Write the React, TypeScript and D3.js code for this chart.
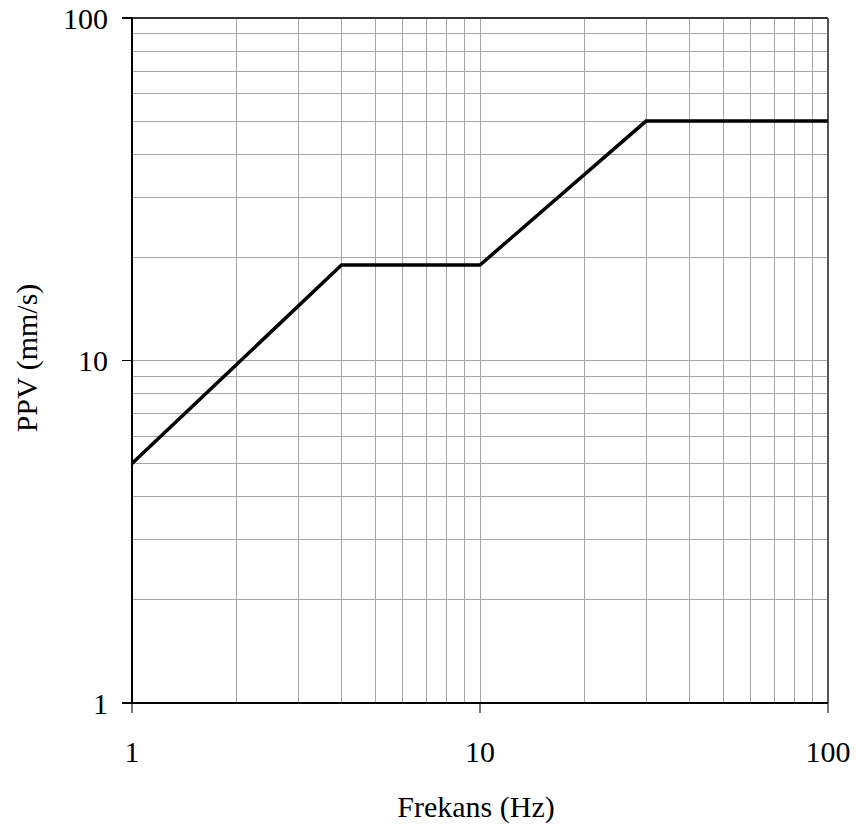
import React from "react";
import * as d3 from "d3";

// Frequency (Hz) breakpoints of the PPV limit curve
const freqHz = [1, 4, 10, 30, 100];
// Peak particle velocity limit (mm/s) at each breakpoint
const ppvMmS = [5, 19, 19, 50, 50];

const xTickLabels = ["1", "10", "100"];
const yTickLabels = ["1", "10", "100"];
const xTitle = "Frekans (Hz)";
const yTitle = "PPV (mm/s)";

const W = 856;
const H = 829;
const M = { left: 132, right: 828, top: 18, bottom: 703 };
const FONT = "'Liberation Serif', 'Times New Roman', serif";

export default function App() {
  const x = d3.scaleLog().domain([1, 100]).range([M.left, M.right]);
  const y = d3.scaleLog().domain([1, 100]).range([M.bottom, M.top]);

  // gridlines at every 1..9 × decade
  const grid: number[] = [];
  for (const dec of [1, 10]) for (let k = 1; k <= 9; k++) grid.push(k * dec);
  grid.push(100);

  const line = d3
    .line<number>()
    .x((_, i) => x(freqHz[i]))
    .y((d) => y(d));

  const majors = xTickLabels.map(Number);

  return (
    <svg width={W} height={H} style={{ display: "block", position: "absolute", left: 0, top: 0 }}>
      <rect x={0} y={0} width={W} height={H} fill="#fff" />
      <g stroke="#a6a6a6" strokeWidth={1} shapeRendering="crispEdges">
        {grid.map((v) => (
          <line key={"gx" + v} x1={x(v)} x2={x(v)} y1={M.top} y2={M.bottom} />
        ))}
        {grid.map((v) => (
          <line key={"gy" + v} x1={M.left} x2={M.right} y1={y(v)} y2={y(v)} />
        ))}
      </g>
      {/* plot frame */}
      <g shapeRendering="crispEdges" strokeWidth={1.5}>
        <line x1={M.left} x2={M.right} y1={M.top} y2={M.top} stroke="#333" />
        <line x1={M.right} x2={M.right} y1={M.top} y2={M.bottom} stroke="#555" />
      </g>
      {/* major ticks */}
      <g stroke="#777" strokeWidth={1.5} shapeRendering="crispEdges">
        {majors.map((v) => (
          <line key={"tx" + v} x1={x(v)} x2={x(v)} y1={M.bottom} y2={M.bottom + 10} />
        ))}
        {yTickLabels.map(Number).map((v) => (
          <line key={"ty" + v} x1={M.left - 10} x2={M.left} y1={y(v)} y2={y(v)} stroke="#000" />
        ))}
      </g>
      {/* axes */}
      <g stroke="#000" strokeWidth={2} shapeRendering="crispEdges">
        <line x1={M.left} x2={M.left} y1={M.top} y2={M.bottom} />
        <line x1={M.left} x2={M.right} y1={M.bottom} y2={M.bottom} />
      </g>
      <path
        d={line(ppvMmS) || ""}
        fill="none"
        stroke="#000"
        strokeWidth={3.5}
        strokeLinejoin="miter"
      />
      <g fontFamily={FONT} fontSize={30} fill="#000">
        {xTickLabels.map((t) => (
          <text key={"lx" + t} x={x(Number(t))} y={762} textAnchor="middle">
            {t}
          </text>
        ))}
        {yTickLabels.map((t) => (
          <text key={"ly" + t} x={108} y={y(Number(t)) + 10.5} textAnchor="end">
            {t}
          </text>
        ))}
        <text x={476} y={817} textAnchor="middle">
          {xTitle}
        </text>
        <text transform={`translate(37,358) rotate(-90)`} textAnchor="middle">
          {yTitle}
        </text>
      </g>
    </svg>
  );
}
